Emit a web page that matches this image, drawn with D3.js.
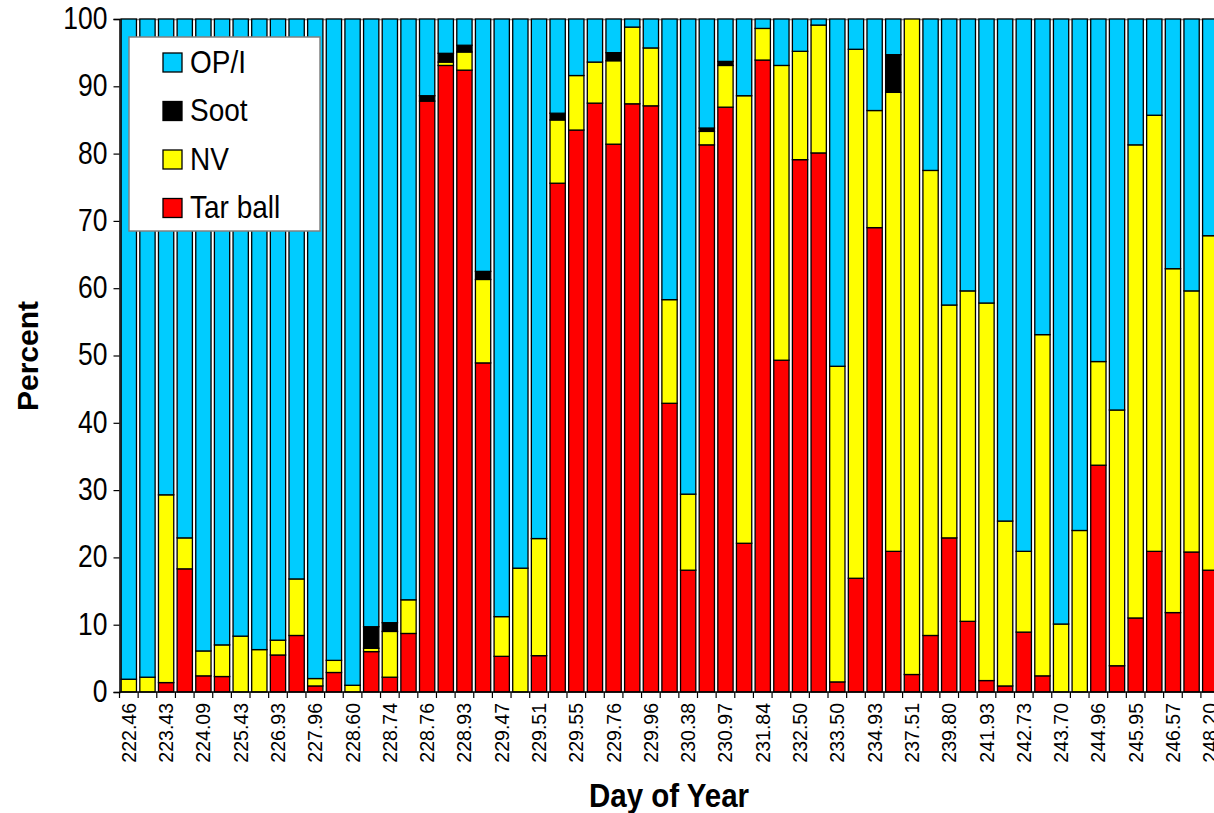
<!DOCTYPE html>
<html>
<head>
<meta charset="utf-8">
<script src="https://cdn.jsdelivr.net/npm/d3@7"></script>
<style>
  html, body { margin: 0; padding: 0; background: #fff; }
  svg { display: block; font-family: "Liberation Sans", Arial, sans-serif; }
</style>
</head>
<body>
<svg id="chart" width="1214" height="813"></svg>
<script>
// Day-of-year labels, shown under every other sample
const dayLabels = ["222.46","223.43","224.09","225.43","226.93","227.96","228.60","228.74",
  "228.76","228.93","229.47","229.51","229.55","229.76","229.96","230.38","230.97","231.84",
  "232.50","233.50","234.93","237.51","239.80","241.93","242.73","243.70","244.96","245.95",
  "246.57","248.20"];

// Particle-type fractions (percent) for each sample, bottom to top of the stack
const tarBall = [0,0,1.4,18.3,2.4,2.3,0,0,5.5,8.4,0.9,2.9,0,6.0,2.2,8.7,87.8,93.1,92.4,48.9,
  5.3,0,5.4,75.6,83.5,87.5,81.4,87.4,87.1,42.9,18.1,81.3,86.9,22.1,93.9,49.3,79.1,80.1,1.5,16.9,
  69.0,20.9,2.6,8.4,22.9,10.5,1.7,0.9,8.9,2.4,0,0,33.7,3.9,11.0,20.9,11.8,20.8,18.1];
const nv = [1.9,2.2,27.9,4.6,3.7,4.7,8.3,6.3,2.2,8.4,1.1,1.8,1.0,0.5,6.8,5.0,0,0.5,2.7,12.4,
  5.9,18.4,17.4,9.4,8.1,6.1,12.4,11.4,8.6,15.4,11.3,2.0,6.2,66.5,4.7,43.8,16.1,19.0,46.9,78.6,
  17.4,68.2,97.4,69.1,34.6,49.1,56.1,24.5,12.0,50.7,10.1,24.0,15.4,38.0,70.3,64.8,51.1,38.8,49.7];
const soot = [0,0,0,0,0,0,0,0,0,0,0,0,0,3.2,1.3,0,0.8,1.3,1.0,1.2,
  0,0,0,1.0,0,0,1.2,0,0,0,0,0.5,0.6,0,0,0,0,0,0,0,
  0,5.6,0,0,0,0,0,0,0,0,0,0,0,0,0,0,0,0,0];
const opi = [98.1,97.8,70.7,77.1,93.9,93.0,91.7,93.7,92.3,83.2,98.0,95.3,99.0,90.3,89.7,86.3,
  11.4,5.1,3.9,37.5,88.8,81.6,77.2,14.0,8.4,6.4,5.0,1.2,4.3,41.7,70.6,16.2,6.3,11.4,1.4,6.9,
  4.8,0.9,51.6,4.5,13.6,5.3,0,22.5,42.5,40.4,42.2,74.6,79.1,46.9,89.9,76.0,50.9,58.1,18.7,
  14.3,37.1,40.4,32.2];

const seriesKeys = ["Tar ball", "NV", "Soot", "OP/I"];
const seriesColors = { "Tar ball": "#ff0000", "NV": "#ffff00", "Soot": "#000000", "OP/I": "#00ccff" };
const yTicks = [0,10,20,30,40,50,60,70,80,90,100];

const rows = tarBall.map((t, i) => ({
  idx: i, "Tar ball": t, "NV": nv[i], "Soot": soot[i], "OP/I": opi[i]
}));

const svg = d3.select("#chart");
const plot = { left: 119.5, top: 19, bottom: 692, step: 18.645 };
const n = rows.length;
const stretch = 1.15; // text is drawn slightly taller than its natural proportions

const x = d3.scaleBand()
  .domain(rows.map(d => d.idx))
  .range([plot.left, plot.left + plot.step * n])
  .paddingInner(0.18)
  .paddingOuter(0.09);

const y = d3.scaleLinear().domain([0, 100]).range([plot.bottom, plot.top]);

const stacked = d3.stack().keys(seriesKeys)(rows);

// frame line along the top of the plot area
svg.append("line")
  .attr("x1", plot.left).attr("x2", 1214)
  .attr("y1", plot.top + 0.5).attr("y2", plot.top + 0.5)
  .attr("stroke", "#808080").attr("stroke-width", 1.5);

// stacked bars
const layers = svg.append("g").selectAll("g")
  .data(stacked).join("g")
  .attr("fill", d => seriesColors[d.key]);

layers.selectAll("rect")
  .data(d => d.filter(s => s[1] - s[0] > 0))
  .join("rect")
  .attr("x", s => x(s.data.idx))
  .attr("width", x.bandwidth())
  .attr("y", s => y(s[1]))
  .attr("height", s => y(s[0]) - y(s[1]))
  .attr("stroke", "#000")
  .attr("stroke-width", 1.3);

// y axis
const yAxis = svg.append("g")
  .attr("transform", `translate(${plot.left},0)`)
  .call(d3.axisLeft(y).tickValues(yTicks).tickSize(6).tickPadding(6).tickFormat(d3.format("d")));
yAxis.select(".domain").attr("stroke", "#000").attr("stroke-width", 1.5);
yAxis.selectAll(".tick line").attr("stroke", "#000").attr("stroke-width", 1.2);
yAxis.selectAll(".tick text")
  .attr("x", null).attr("dy", null)
  .attr("font-family", "Liberation Sans, Arial, sans-serif")
  .attr("font-size", 26.5).attr("fill", "#000")
  .attr("transform", `translate(-12,0) scale(1,${stretch}) translate(0,8.2)`);

// x axis: baseline with ticks on band boundaries
const xg = svg.append("g");
xg.append("line")
  .attr("x1", plot.left).attr("x2", 1214)
  .attr("y1", plot.bottom).attr("y2", plot.bottom)
  .attr("stroke", "#000").attr("stroke-width", 1.5);
const bounds = d3.range(n + 1).map(i => plot.left + i * x.step());
xg.selectAll("line.tk")
  .data(bounds).join("line")
  .attr("class", "tk")
  .attr("x1", d => d).attr("x2", d => d)
  .attr("y1", plot.bottom).attr("y2", plot.bottom + 6)
  .attr("stroke", "#000").attr("stroke-width", 1.2);

// day-of-year labels under every other bar
xg.selectAll("text")
  .data(dayLabels).join("text")
  .attr("transform", (d, k) => {
    const cx = x(k * 2) + x.bandwidth() / 2;
    return `translate(${cx},${plot.bottom + 11}) rotate(-90)`;
  })
  .attr("text-anchor", "end")
  .attr("dy", "0.36em")
  .attr("font-size", 19.5)
  .attr("fill", "#000")
  .text(d => d);

// axis titles
svg.append("text")
  .attr("transform", `translate(669,807) scale(1,${stretch})`)
  .attr("text-anchor", "middle")
  .attr("font-size", 29.5).attr("font-weight", "bold")
  .text("Day of Year");

svg.append("text")
  .attr("transform", "translate(38,356) rotate(-90)")
  .attr("text-anchor", "middle")
  .attr("font-size", 30).attr("font-weight", "bold")
  .text("Percent");

// legend
const legend = svg.append("g");
legend.append("rect")
  .attr("x", 129).attr("y", 37).attr("width", 191).attr("height", 194)
  .attr("fill", "#fff").attr("stroke", "#808080").attr("stroke-width", 1.5);
const legendOrder = ["OP/I", "Soot", "NV", "Tar ball"];
const item = legend.selectAll("g.item")
  .data(legendOrder).join("g")
  .attr("class", "item")
  .attr("transform", (d, i) => `translate(163,${62.5 + i * 48.5})`);
item.append("rect")
  .attr("x", 0).attr("y", -9.5).attr("width", 19).attr("height", 19)
  .attr("fill", d => seriesColors[d])
  .attr("stroke", "#000").attr("stroke-width", 1.3);
item.append("text")
  .attr("transform", `translate(27,10) scale(1,${stretch})`)
  .attr("font-size", 28).attr("fill", "#000")
  .text(d => d);
</script>
</body>
</html>
